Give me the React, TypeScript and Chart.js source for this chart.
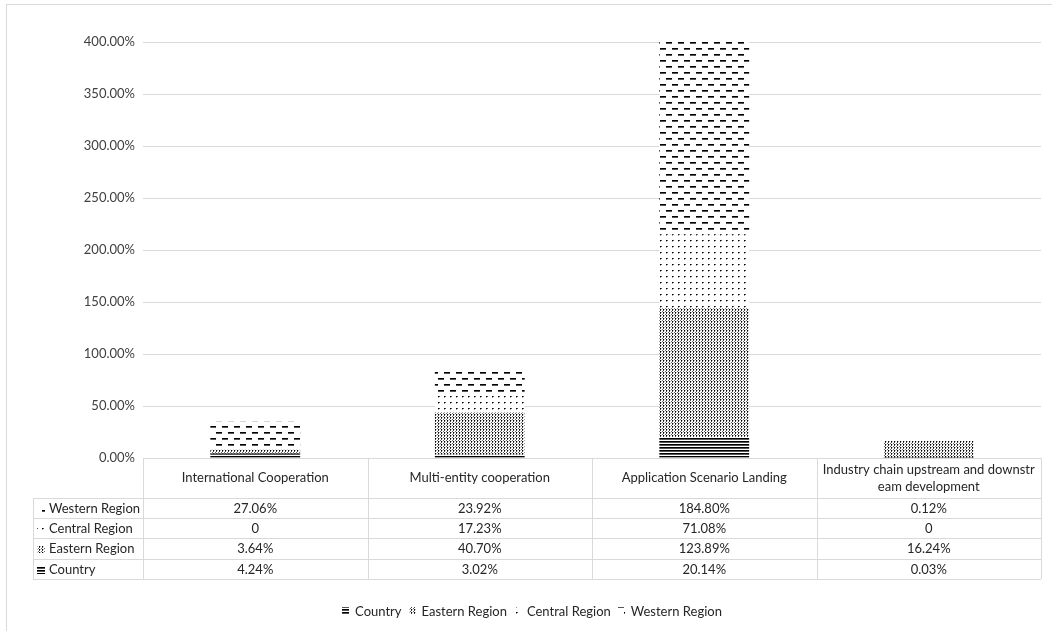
import React, { useEffect, useRef } from "react";
import { Chart, registerables } from "chart.js";

Chart.register(...registerables);

const categories: string[][] = [
  ["International Cooperation"],
  ["Multi-entity cooperation"],
  ["Application Scenario Landing"],
  ["Industry chain upstream and downstr", "eam development"],
];
const seriesNames = ["Country", "Eastern Region", "Central Region", "Western Region"];
const countryValues = [4.24, 3.02, 20.14, 0.03];
const easternValues = [3.64, 40.7, 123.89, 16.24];
const centralValues = [0, 17.23, 71.08, 0];
const westernValues = [27.06, 23.92, 184.8, 0.12];
const yMax = 400;
const yStep = 50;

const FONT = "Lato, 'Liberation Sans', sans-serif";
const TEXT = "#262626";
const LINE = "#d9d9d9";

type Kind = "country" | "eastern" | "central" | "western";

function makePattern(main: CanvasRenderingContext2D, kind: Kind): CanvasPattern {
  const c = document.createElement("canvas");
  let w = 4, h = 4;
  if (kind === "country") { w = 4; h = 3; }
  if (kind === "eastern") { w = 3; h = 3; }
  if (kind === "central") { w = 6; h = 6; }
  if (kind === "western") { w = 12; h = 12; }
  c.width = w; c.height = h;
  const g = c.getContext("2d")!;
  g.fillStyle = "#ffffff";
  g.fillRect(0, 0, w, h);
  const px = (x: number, y: number, ww: number, hh: number, col: string) => {
    g.fillStyle = col;
    g.fillRect(x, y, ww, hh);
  };
  if (kind === "country") {
    px(0, 0, w, 1, "#000000");
    px(0, 1, w, 1, "#555555");
  } else if (kind === "eastern") {
    px(0, 0, 1, 1, "#000000");
    px(0, 1, 1, 1, "#444444");
    px(2, 2, 1, 1, "#666666");
    px(1, 0, 1, 1, "#bbbbbb");
  } else if (kind === "central") {
    px(0, 0, 1, 1, "#000000");
    px(1, 0, 1, 1, "#555555");
    px(0, 1, 1, 1, "#999999");
  } else {
    px(0, 0, 6, 1, "#000000");
    px(0, 1, 6, 1, "#555555");
    px(6, 6, 6, 1, "#000000");
    px(6, 7, 6, 1, "#555555");
  }
  return main.createPattern(c, "repeat")!;
}

const fmt = (v: number) => (v === 0 ? "0" : v.toFixed(2) + "%");

export default function App() {
  const ref = useRef<HTMLCanvasElement>(null);

  useEffect(() => {
    const canvas = ref.current!;
    const main = canvas.getContext("2d")!;
    const pats: Record<Kind, CanvasPattern> = {
      country: makePattern(main, "country"),
      eastern: makePattern(main, "eastern"),
      central: makePattern(main, "central"),
      western: makePattern(main, "western"),
    };
    const seriesValues = [countryValues, easternValues, centralValues, westernValues];
    const kinds: Kind[] = ["country", "eastern", "central", "western"];

    const tablePlugin = {
      id: "dataTable",
      afterDraw(chart: any) {
        const ctx: CanvasRenderingContext2D = chart.ctx;
        const { left: L, right: R, bottom: T } = chart.chartArea;
        const n = categories.length;
        const cw = (R - L) / n;
        const tableLeft = 33;
        const headerH = 40;
        const rowYs = [T + headerH, T + headerH + 20, T + headerH + 40, T + headerH + 61, T + headerH + 81];
        ctx.save();
        ctx.strokeStyle = LINE;
        ctx.lineWidth = 1;
        ctx.beginPath();
        ctx.moveTo(L, Math.round(T) + 0.5);
        ctx.lineTo(R, Math.round(T) + 0.5);
        for (const y of rowYs) {
          ctx.moveTo(tableLeft, Math.round(y) + 0.5);
          ctx.lineTo(R, Math.round(y) + 0.5);
        }
        for (let i = 0; i <= n; i++) {
          const x = Math.round(L + i * cw) + 0.5;
          ctx.moveTo(x, T);
          ctx.lineTo(x, rowYs[rowYs.length - 1]);
        }
        ctx.moveTo(tableLeft + 0.5, rowYs[0]);
        ctx.lineTo(tableLeft + 0.5, rowYs[rowYs.length - 1]);
        ctx.stroke();

        ctx.fillStyle = TEXT;
        ctx.font = `13px ${FONT}`;
        ctx.textAlign = "center";
        ctx.textBaseline = "middle";
        categories.forEach((lines, i) => {
          const cx = L + (i + 0.5) * cw;
          const cy = T + headerH / 2;
          const lh = 17;
          lines.forEach((ln, j) => {
            ctx.fillText(ln, cx, cy + (j - (lines.length - 1) / 2) * lh);
          });
        });
        const order = [3, 2, 1, 0];
        order.forEach((si, r) => {
          const y0 = rowYs[r];
          const y1 = rowYs[r + 1];
          const cy = (y0 + y1) / 2 + 0.5;
          ctx.fillStyle = TEXT;
          ctx.textAlign = "center";
          seriesValues[si].forEach((v, i) => {
            ctx.fillText(fmt(v), L + (i + 0.5) * cw, cy);
          });
          ctx.fillStyle = pats[kinds[si]];
          ctx.fillRect(37, Math.round(cy) - 3, 8, 7);
          ctx.fillStyle = TEXT;
          ctx.textAlign = "left";
          ctx.fillText(seriesNames[si], 49, cy);
        });

        const ly = 611;
        const iconW = 7;
        const gapIT = 6;
        const gapItems = 7;
        const widths = seriesNames.map((s) => iconW + gapIT + ctx.measureText(s).width);
        const total = widths.reduce((a, b) => a + b, 0) + gapItems * (widths.length - 1);
        let x = 532 - total / 2;
        seriesNames.forEach((s, i) => {
          ctx.fillStyle = pats[kinds[i]];
          ctx.fillRect(Math.round(x), ly - 4, iconW, 7);
          ctx.fillStyle = TEXT;
          ctx.textAlign = "left";
          ctx.fillText(s, x + iconW + gapIT, ly + 0.5);
          x += widths[i] + gapItems;
        });

        ctx.strokeStyle = LINE;
        ctx.strokeRect(6.5, 4.5, 1200, 800);
        ctx.restore();
      },
    };

    const chart = new Chart(canvas, {
      type: "bar",
      data: {
        labels: categories.map((c) => c.join("")),
        datasets: seriesNames.map((name, i) => ({
          label: name,
          data: seriesValues[i],
          backgroundColor: pats[kinds[i]] as any,
          borderWidth: 0,
          barPercentage: 0.4,
          categoryPercentage: 1,
        })),
      },
      options: {
        animation: false,
        responsive: false,
        layout: { padding: { top: 42, right: 11, bottom: 173, left: 0 } },
        plugins: {
          legend: { display: false },
          tooltip: { enabled: false },
        },
        scales: {
          x: {
            stacked: true,
            display: false,
          },
          y: {
            stacked: true,
            min: 0,
            max: yMax,
            border: { display: false },
            grid: { color: LINE, drawTicks: false },
            ticks: {
              stepSize: yStep,
              padding: 8,
              color: "#404040",
              font: { family: FONT, size: 13 },
              callback: (v: any) => Number(v).toFixed(2) + "%",
            },
            afterFit: (scale: any) => {
              scale.width = 143;
            },
          },
        },
      },
      plugins: [tablePlugin],
    });
    return () => chart.destroy();
  }, []);

  return (
    <div style={{ position: "absolute", left: 0, top: 0, width: 1052, height: 631, background: "#fff" }}>
      <canvas ref={ref} width={1052} height={631} style={{ display: "block" }} />
    </div>
  );
}
